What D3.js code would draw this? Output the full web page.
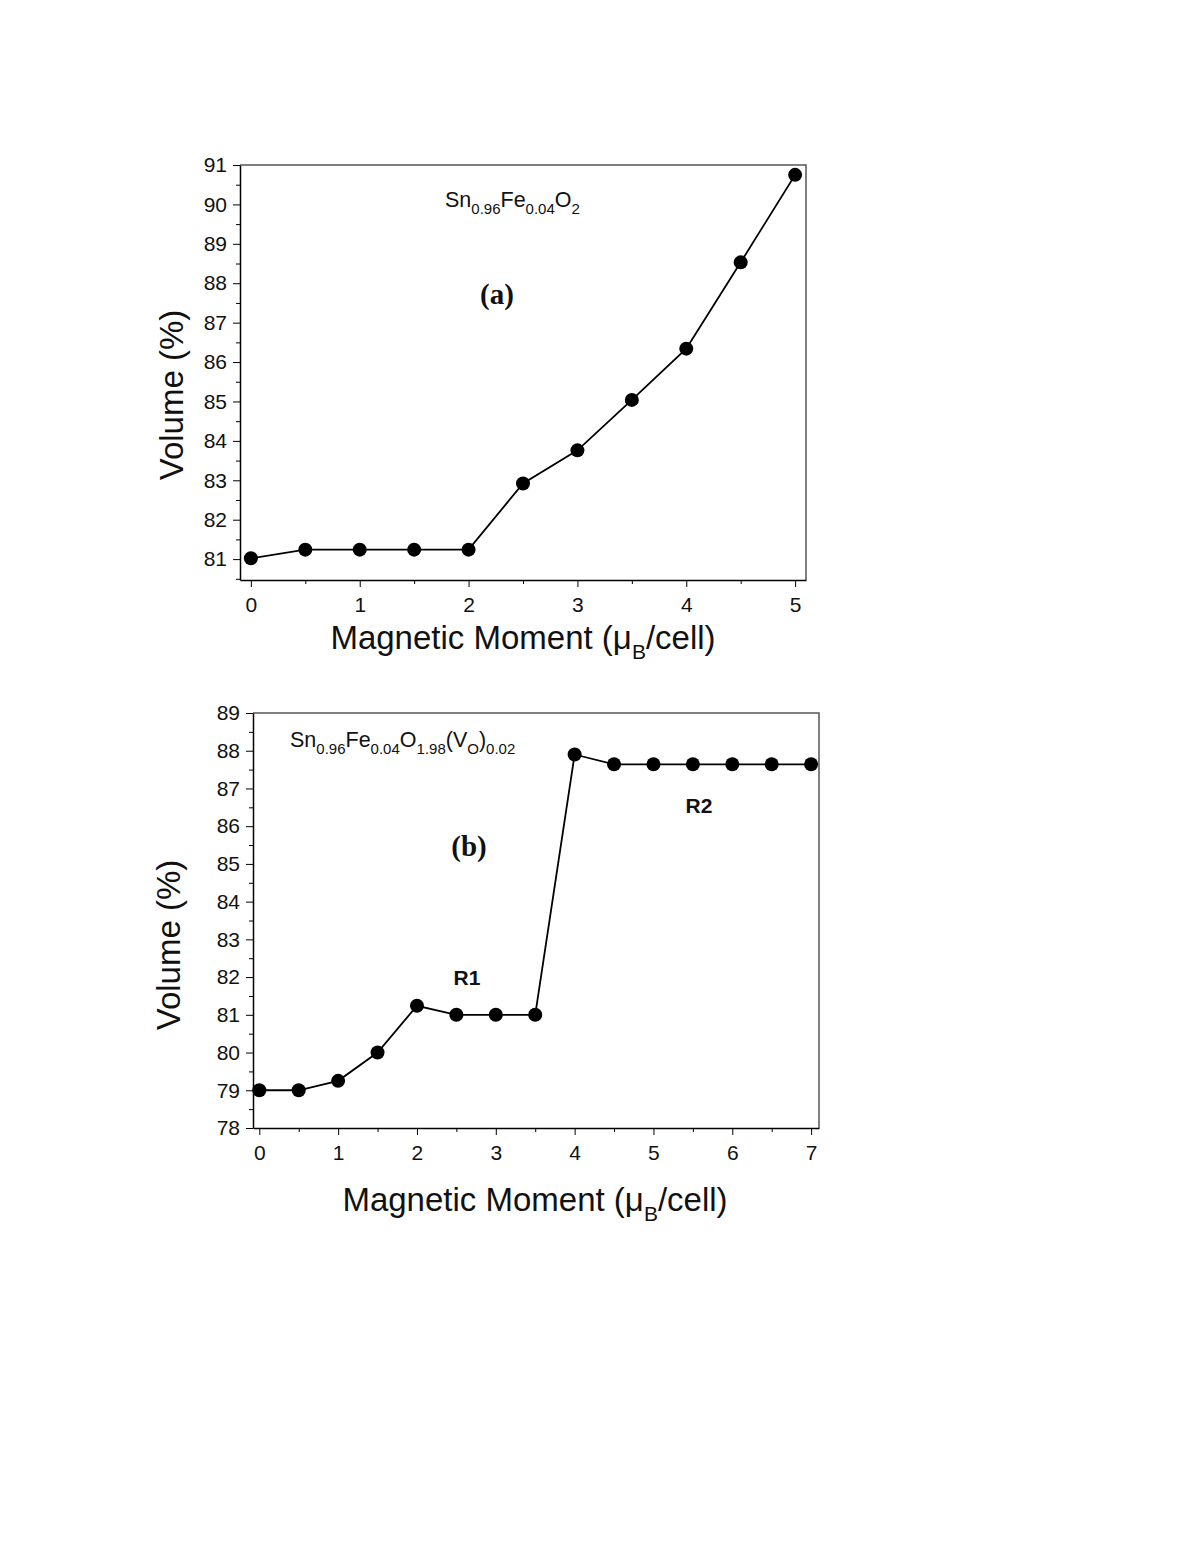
<!DOCTYPE html>
<html lang='en'>
	<head>
		<meta charset='UTF-8'>
		<title>Volume vs Magnetic Moment</title>
		<style>
			body { margin: 0; background: #fff; }
			svg text { font-family: 'Liberation Sans', Arial, sans-serif; }
			svg text.serif { font-family: 'Liberation Serif', 'Times New Roman', serif; }
		</style>
	</head>
	<body>
		<svg id='graph' width='1200' height='1553'></svg>

		<script src='https://d3js.org/d3.v7.min.js'></script>
		<script>
			// panel (a)
			const momentA = [0, 0.5, 1, 1.5, 2, 2.5, 3, 3.5, 4, 4.5, 5]
			const volumeA = [81.02, 81.24, 81.24, 81.24, 81.24, 82.92, 83.76, 85.04, 86.34, 88.53, 90.75]
			const xTicksA = [0, 1, 2, 3, 4, 5]
			const yTicksA = [81, 82, 83, 84, 85, 86, 87, 88, 89, 90, 91]

			// panel (b)
			const momentB = [0, 0.5, 1, 1.5, 2, 2.5, 3, 3.5, 4, 4.5, 5, 5.5, 6, 6.5, 7]
			const volumeB = [79.0, 79.0, 79.25, 80.0, 81.24, 81.0, 81.0, 81.0, 87.9, 87.64, 87.64, 87.64, 87.64, 87.64, 87.64]
			const xTicksB = [0, 1, 2, 3, 4, 5, 6, 7]
			const yTicksB = [78, 79, 80, 81, 82, 83, 84, 85, 86, 87, 88, 89]

			const svg = d3.select('#graph')

			function drawPanel(opts) {
				const { left, right, top, bottom, xDomain, yDomain, xs, ys, xTicks, yTicks } = opts
				const x = d3.scaleLinear().domain(xDomain).range([left, right])
				const y = d3.scaleLinear().domain(yDomain).range([bottom, top])
				const g = svg.append('g')

				// frame top / right
				g.append('path')
					.attr('d', `M${left},${top}H${right}V${bottom}`)
					.attr('fill', 'none')
					.attr('stroke', '#555')
					.attr('stroke-width', 1.5)

				// minor ticks
				const xMinor = d3.range(Math.ceil(xDomain[0] * 2) / 2, xDomain[1] + 1e-9, 0.5).filter(v => v % 1 !== 0)
				const yMinor = d3.range(Math.ceil(yDomain[0] * 2) / 2, yDomain[1] + 1e-9, 0.5).filter(v => v % 1 !== 0)

				g.append('g')
					.attr('transform', `translate(0,${bottom})`)
					.call(d3.axisBottom(x).tickValues(xMinor).tickSize(4).tickFormat(''))
					.call(a => a.select('.domain').remove())
				g.append('g')
					.attr('transform', `translate(${left},0)`)
					.call(d3.axisLeft(y).tickValues(yMinor).tickSize(4).tickFormat(''))
					.call(a => a.select('.domain').remove())

				const xAxis = g.append('g')
					.attr('transform', `translate(0,${bottom})`)
					.call(d3.axisBottom(x).tickValues(xTicks).tickSize(7).tickSizeOuter(0).tickPadding(10).tickFormat(d3.format('d')))
				xAxis.selectAll('text').style('font-size', '21px').attr('fill', '#111')
				xAxis.select('.domain').attr('stroke-width', 1.5)

				const yAxis = g.append('g')
					.attr('transform', `translate(${left},0)`)
					.call(d3.axisLeft(y).tickValues(yTicks).tickSize(7).tickSizeOuter(0).tickPadding(6).tickFormat(d3.format('d')))
				yAxis.selectAll('text').style('font-size', '21px').attr('fill', '#111')
				yAxis.select('.domain').attr('stroke-width', 1.5)

				const pts = xs.map((v, i) => [v, ys[i]])
				g.append('path')
					.datum(pts)
					.attr('fill', 'none')
					.attr('stroke', '#000')
					.attr('stroke-width', 1.8)
					.attr('d', d3.line().x(d => x(d[0])).y(d => y(d[1])))

				g.selectAll('circle')
					.data(pts)
					.enter()
					.append('circle')
					.attr('cx', d => x(d[0]))
					.attr('cy', d => y(d[1]))
					.attr('r', 7)
					.attr('fill', '#000')

				// axis titles
				g.append('text')
					.attr('transform', `translate(${opts.yTitleX},${opts.yTitleY}) rotate(-90)`)
					.attr('text-anchor', 'middle')
					.attr('font-size', 33)
					.attr('fill', '#111')
					.text('Volume (%)')

				const xt = g.append('text')
					.attr('x', opts.xTitleX)
					.attr('y', opts.xTitleY)
					.attr('text-anchor', 'middle')
					.attr('font-size', 33)
					.attr('fill', '#111')
				xt.append('tspan').text('Magnetic Moment (\u03bc')
				xt.append('tspan').attr('font-size', 21).attr('dy', 10).text('B')
				xt.append('tspan').attr('dy', -10).text('/cell)')

				return g
			}

			function formula(g, x, y, parts) {
				const t = g.append('text')
					.attr('x', x)
					.attr('y', y)
					.attr('font-size', 21.5)
					.attr('fill', '#111')
				let sub = false
				parts.forEach(([s, isSub]) => {
					const ts = t.append('tspan').text(s)
					if (isSub) ts.attr('font-size', 15)
					if (isSub && !sub) ts.attr('dy', 7)
					else if (!isSub && sub) ts.attr('dy', -7)
					sub = isSub
				})
			}

			const ga = drawPanel({
				left: 240, right: 806, top: 165, bottom: 580,
				xDomain: [-0.1, 5.1], yDomain: [80.47, 91],
				xs: momentA, ys: volumeA, xTicks: xTicksA, yTicks: yTicksA,
				yTitleX: 183, yTitleY: 395, xTitleX: 523, xTitleY: 649
			})
			formula(ga, 445, 207, [['Sn', false], ['0.96', true], ['Fe', false], ['0.04', true], ['O', false], ['2', true]])
			ga.append('text')
				.attr('class', 'serif')
				.attr('x', 497).attr('y', 304)
				.attr('text-anchor', 'middle')
				.attr('font-weight', 'bold')
				.attr('font-size', 29)
				.attr('fill', '#111')
				.text('(a)')

			const gb = drawPanel({
				left: 253, right: 819, top: 713, bottom: 1128,
				xDomain: [-0.08, 7.1], yDomain: [78, 89],
				xs: momentB, ys: volumeB, xTicks: xTicksB, yTicks: yTicksB,
				yTitleX: 180, yTitleY: 945, xTitleX: 535, xTitleY: 1211
			})
			formula(gb, 290, 747, [['Sn', false], ['0.96', true], ['Fe', false], ['0.04', true], ['O', false], ['1.98', true], ['(V', false], ['O', true], [')', false], ['0.02', true]])
			gb.append('text')
				.attr('class', 'serif')
				.attr('x', 469).attr('y', 856)
				.attr('text-anchor', 'middle')
				.attr('font-weight', 'bold')
				.attr('font-size', 29)
				.attr('fill', '#111')
				.text('(b)')
			gb.append('text')
				.attr('x', 467).attr('y', 985)
				.attr('text-anchor', 'middle')
				.attr('font-weight', 'bold')
				.attr('font-size', 21)
				.attr('fill', '#111')
				.text('R1')
			gb.append('text')
				.attr('x', 699).attr('y', 813)
				.attr('text-anchor', 'middle')
				.attr('font-weight', 'bold')
				.attr('font-size', 21)
				.attr('fill', '#111')
				.text('R2')
		</script>
	</body>
</html>
